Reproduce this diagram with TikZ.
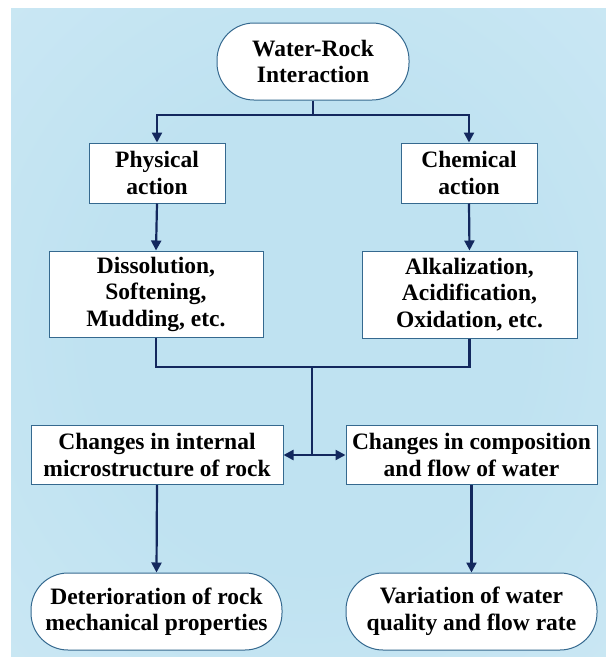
\documentclass[tikz,border=0pt]{standalone}
\usepackage{fontspec}
\setmainfont{Liberation Serif}
\usetikzlibrary{arrows.meta}
\definecolor{navy}{HTML}{13285E}
\definecolor{edgeblue}{HTML}{35698F}
\definecolor{bgin}{HTML}{BFE2F1}
\definecolor{bgmid}{HTML}{CCE8F4}
\definecolor{bgout}{HTML}{E1F1F9}
\pgfdeclareradialshading{bgshade}{\pgfpoint{0bp}{0bp}}{color(0bp)=(bgin); color(18bp)=(bgin); color(40bp)=(bgmid); color(62bp)=(bgout); color(80bp)=(bgout)}
\tikzset{
  box/.style={draw=edgeblue, line width=1pt, fill=white, align=center, inner sep=0pt,
    font=\fontsize{23.5}{26.5}\selectfont\bfseries},
  stadium/.style={box, rounded corners=37pt},
  arr/.style={draw=navy, line width=2.2pt, -{Triangle[length=10pt,width=10pt]}},
  link/.style={draw=navy, line width=2.2pt},
}
\begin{document}
\begin{tikzpicture}[x=1pt,y=-1pt]
\useasboundingbox (0,0) rectangle (606,657);
\shade[shading=bgshade] (11,8) rectangle (606,657);

\node[stadium, minimum width=192pt, minimum height=77pt] (wr) at (313,61.5) {Water-Rock\\Interaction};
\node[box, minimum width=136pt, minimum height=60pt] (phys) at (157,173) {Physical\\action};
\node[box, minimum width=136pt, minimum height=60pt] (chem) at (469,173) {Chemical\\action};
\node[box, minimum width=214pt, minimum height=86pt] (diss) at (156,294) {Dissolution,\\Softening,\\Mudding, etc.};
\node[box, minimum width=215pt, minimum height=87pt] (alk) at (469.5,294.5) {Alkalization,\\Acidification,\\Oxidation, etc.};
\node[box, minimum width=252pt, minimum height=59pt] (cint) at (157,455) {Changes in internal\\microstructure of rock};
\node[box, minimum width=251pt, minimum height=59pt] (ccomp) at (471.5,455) {Changes in composition\\and flow of water};
\node[stadium, minimum width=251pt, minimum height=77pt] (det) at (156.5,611.5) {Deterioration of rock\\mechanical properties};
\node[stadium, minimum width=251pt, minimum height=77pt] (var) at (471.5,611.5) {Variation of water\\quality and flow rate};

\coordinate (top) at (313,115);
\coordinate (j) at (312,367);
\coordinate (k) at (312,455);

\draw[link] (wr.south) -- (top);
\draw[arr] (top) -| (phys.north);
\draw[arr] (top) -| (chem.north);
\draw[arr] (phys.south) -- (diss.north);
\draw[arr] (chem.south) -- (alk.north);
\draw[link] (diss.south) |- (j);
\draw[link] (alk.south) |- (j);
\draw[link] (j) -- (k);
\draw[arr] (k) -- (cint.east);
\draw[arr] (k) -- (ccomp.west);
\draw[arr] (cint.south) -- (det.north);
\draw[arr] (ccomp.south) -- (var.north);
\end{tikzpicture}
\end{document}
